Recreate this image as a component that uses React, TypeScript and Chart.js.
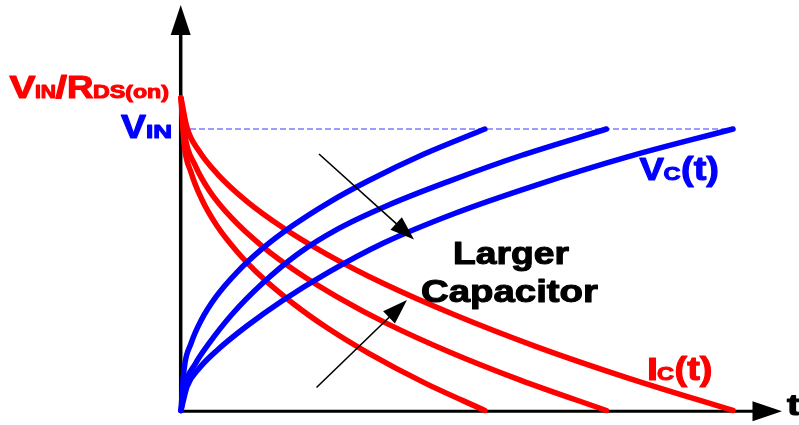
import { useEffect, useRef } from 'react';
import { Chart, registerables } from 'chart.js';

Chart.register(...registerables);

// Time axis (arbitrary units) and normalised values (V_IN = 1)
const tFast = [0, 0.03, 0.1, 0.2, 0.35, 0.55, 0.8, 1.1, 1.45, 1.85, 2.4, 3.0];
const vcFast = [0, 0.145, 0.239, 0.321, 0.406, 0.49, 0.574, 0.656, 0.737, 0.816, 0.911, 1.0];
const icFast = [1.11, 0.949, 0.845, 0.754, 0.659, 0.566, 0.473, 0.382, 0.292, 0.204, 0.099, 0];

const tMid = [0, 0.04, 0.14, 0.28, 0.5, 0.8, 1.15, 1.55, 2.05, 2.65, 3.35, 4.2];
const vcMid = [0, 0.09, 0.165, 0.24, 0.34, 0.45, 0.555, 0.645, 0.73, 0.815, 0.905, 1.0];
const icMid = [1.11, 0.974, 0.871, 0.781, 0.684, 0.584, 0.491, 0.402, 0.306, 0.208, 0.108, 0];

const tSlow = [0, 0.06, 0.18, 0.36, 0.65, 1.0, 1.45, 2.0, 2.7, 3.5, 4.4, 5.45];
const vcSlow = [0, 0.085, 0.15, 0.215, 0.3, 0.39, 0.49, 0.595, 0.7, 0.8, 0.9, 1.0];
const icSlow = [1.11, 1.004, 0.921, 0.84, 0.743, 0.651, 0.553, 0.451, 0.34, 0.228, 0.117, 0];

const vinLevelT = [0, 5.45];
const vinLevelV = [1, 1];

const BLUE = '#0000FF';
const RED = '#FF0000';
const FONT = '"Liberation Sans", Arial, Helvetica, sans-serif';

function txt(ctx: CanvasRenderingContext2D, s: string, x: number, base: number, size: number, color: string, width?: number) {
  ctx.save();
  ctx.font = `bold ${size}px ${FONT}`;
  const m = ctx.measureText(s).width;
  const sx = width ? width / m : 1;
  ctx.translate(x, base);
  ctx.scale(sx, 1);
  ctx.fillStyle = color;
  ctx.strokeStyle = color;
  ctx.lineWidth = 1.1;
  ctx.lineJoin = 'round';
  ctx.textBaseline = 'alphabetic';
  ctx.fillText(s, 0, 0);
  ctx.strokeText(s, 0, 0);
  ctx.restore();
}

function arrow(ctx: CanvasRenderingContext2D, x0: number, y0: number, x1: number, y1: number, len: number, half: number, lw: number) {
  const a = Math.atan2(y1 - y0, x1 - x0);
  const bx = x1 - Math.cos(a) * len;
  const by = y1 - Math.sin(a) * len;
  ctx.save();
  ctx.strokeStyle = '#000';
  ctx.fillStyle = '#000';
  ctx.lineWidth = lw;
  ctx.beginPath();
  ctx.moveTo(x0, y0);
  ctx.lineTo(bx + Math.cos(a) * 2, by + Math.sin(a) * 2);
  ctx.stroke();
  ctx.beginPath();
  ctx.moveTo(x1, y1);
  ctx.lineTo(bx + Math.sin(a) * half, by - Math.cos(a) * half);
  ctx.lineTo(bx - Math.sin(a) * half, by + Math.cos(a) * half);
  ctx.closePath();
  ctx.fill();
  ctx.restore();
}

const decor = {
  id: 'decor',
  beforeDatasetsDraw(chart: any) {
    const ctx = chart.ctx as CanvasRenderingContext2D;
    const xs = chart.scales.x;
    const ys = chart.scales.y;
    const ox = xs.getPixelForValue(0);
    const oy = ys.getPixelForValue(0);
    ctx.save();
    ctx.strokeStyle = '#000';
    ctx.lineCap = 'butt';
    // y axis
    ctx.lineWidth = 3.5;
    ctx.beginPath();
    ctx.moveTo(ox - 0.3, oy + 2.5);
    ctx.lineTo(ox - 0.3, 33);
    ctx.stroke();
    // x axis
    ctx.lineWidth = 3;
    ctx.beginPath();
    ctx.moveTo(ox - 2, oy + 0.8);
    ctx.lineTo(755, oy + 0.8);
    ctx.stroke();
    ctx.fillStyle = '#000';
    ctx.beginPath();
    ctx.moveTo(ox - 0.3, 5);
    ctx.lineTo(ox - 10.3, 35);
    ctx.lineTo(ox + 9.7, 35);
    ctx.closePath();
    ctx.fill();
    ctx.beginPath();
    ctx.moveTo(782, oy + 0.8);
    ctx.lineTo(752.5, oy - 9.2);
    ctx.lineTo(752.5, oy + 10.8);
    ctx.closePath();
    ctx.fill();
    ctx.restore();
  },
  afterDatasetsDraw(chart: any) {
    const ctx = chart.ctx as CanvasRenderingContext2D;
    arrow(ctx, 319, 154, 414, 239.5, 24, 8.5, 1.6);
    arrow(ctx, 316.5, 387.5, 407, 300, 25, 8.5, 1.6);

    // V_IN / R_DS(on)
    txt(ctx, 'V', 9.5, 97.5, 31, RED, 26);
    txt(ctx, 'IN', 35, 97.5, 18, RED, 21);
    txt(ctx, '/', 55.5, 97.5, 31, RED, 11.5);
    txt(ctx, 'R', 67, 97.5, 31, RED, 26.5);
    txt(ctx, 'DS(on)', 93, 97.5, 19, RED, 76);
    // V_IN
    txt(ctx, 'V', 121, 138, 33, BLUE, 25);
    txt(ctx, 'IN', 146, 138, 19, BLUE, 26);
    // V_C(t)
    txt(ctx, 'V', 639.5, 180, 32, BLUE, 24.5);
    txt(ctx, 'C', 663.5, 180, 19, BLUE, 17);
    txt(ctx, '(t)', 681, 180, 33, BLUE, 38);
    // I_C(t)
    txt(ctx, 'I', 647, 380, 32, RED, 11);
    txt(ctx, 'C', 657, 380, 19, RED, 17);
    txt(ctx, '(t)', 674.5, 380, 33, RED, 38);
    // Larger Capacitor
    txt(ctx, 'Larger', 453, 264, 31, '#000', 116);
    txt(ctx, 'Capacitor', 421, 302, 32, '#000', 177);
    // t
    txt(ctx, 't', 787, 415, 29, '#000', 13);
  },
};

export default function App() {
  const ref = useRef<HTMLCanvasElement>(null);
  useEffect(() => {
    const pts = (t: number[], v: number[]) => t.map((x, i) => ({ x, y: v[i] }));
    const curve = (data: any, color: string) => ({
      data,
      borderColor: color,
      borderWidth: 5.5,
      borderCapStyle: 'round',
      borderJoinStyle: 'round',
      cubicInterpolationMode: 'monotone',
      pointRadius: 0,
      fill: false,
      clip: false,
    });
    const chart = new Chart(ref.current as HTMLCanvasElement, {
      type: 'line',
      data: {
        datasets: [
          curve(pts(tFast, vcFast), BLUE),
          curve(pts(tMid, vcMid), BLUE),
          curve(pts(tSlow, vcSlow), BLUE),
          curve(pts(tFast, icFast), RED),
          curve(pts(tMid, icMid), RED),
          curve(pts(tSlow, icSlow), RED),
          {
            data: pts(vinLevelT, vinLevelV),
            borderColor: '#3A3AFF',
            borderWidth: 1,
            borderDash: [6, 3],
            pointRadius: 0,
            fill: false,
            clip: false,
          },
        ] as any,
      },
      options: {
        animation: false,
        responsive: false,
        layout: { padding: { left: 181, right: 66, top: 72.7, bottom: 14.5 } },
        scales: {
          x: { type: 'linear', min: 0, max: 5.45, display: false },
          y: { type: 'linear', min: 0, max: 1.2, display: false },
        },
        plugins: { legend: { display: false }, tooltip: { enabled: false } },
      },
      plugins: [decor],
    });
    return () => chart.destroy();
  }, []);
  return (
    <div style={{ position: 'fixed', left: 0, top: 0, width: 799, height: 425, background: '#fff' }}>
      <canvas ref={ref} width={799} height={425} style={{ display: 'block', width: 799, height: 425 }} />
    </div>
  );
}
